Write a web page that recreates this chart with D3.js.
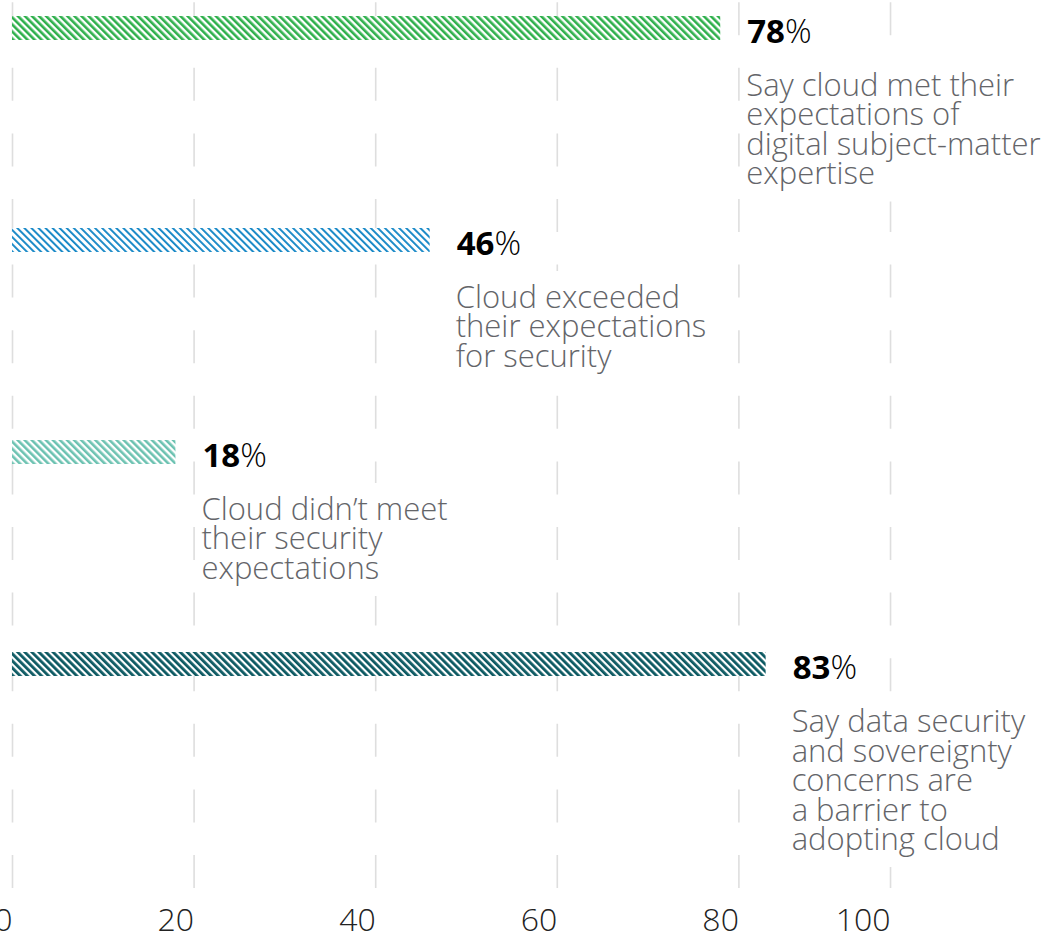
<!DOCTYPE html>
<html>
<head>
<meta charset="utf-8">
<script src="https://cdn.jsdelivr.net/npm/d3@7"></script>
<style>
  body { margin: 0; background: #fff; }
  svg { display: block; font-family: "Open Sans", sans-serif; }
</style>
</head>
<body>
<script>
// chart data
const categories = ["expertise", "securityExceeded", "securityNotMet", "sovereignty"];
const values = [78, 46, 18, 83];
const descriptions = [
  ["Say cloud met their", "expectations of", "digital subject-matter", "expertise"],
  ["Cloud exceeded", "their expectations", "for security"],
  ["Cloud didn\u2019t meet", "their security", "expectations"],
  ["Say data security", "and sovereignty", "concerns are", "a barrier to", "adopting cloud"]
];
const tickValues = [0, 20, 40, 60, 80, 100];

const WIDTH = 1041;
const HEIGHT = 936;
const AXIS_Y = 888;

const svg = d3.select("body").append("svg")
    .attr("width", WIDTH)
    .attr("height", HEIGHT);

const X_SCALE = d3.scaleLinear().domain([0, 100]).range([12, 920]);
// the original puts its last gridline a little short of 100
const GRID_SCALE = d3.scaleLinear()
    .domain([0, 80, 100])
    .range([X_SCALE(0), X_SCALE(80), X_SCALE(96.7)]);
const Y_SCALE = d3.scaleBand().domain(categories).range([16, 676]).paddingInner(0.8868);

const COLOR = d3.scaleOrdinal().domain(categories)
    .range(["#2fb04c", "#1386c6", "#6cc2b1", "#0c5962"]);
const STRIPE = d3.scaleOrdinal().domain(categories).range([2.6, 1.9, 2.6, 2.8]);

// hatch fills
const defs = svg.append("defs");
categories.forEach((c, i) => {
  const p = defs.append("pattern")
      .attr("id", "hatch" + i)
      .attr("patternUnits", "userSpaceOnUse")
      .attr("width", 5)
      .attr("height", 5)
      .attr("patternTransform", "rotate(-45)");
  p.append("rect").attr("width", 5).attr("height", 5).attr("fill", "#fff");
  p.append("rect").attr("width", STRIPE(c)).attr("height", 5).attr("fill", COLOR(c));
});

// axis + dashed gridlines
const axis = svg.append("g")
    .attr("transform", "translate(0," + AXIS_Y + ")")
    .call(d3.axisBottom(GRID_SCALE)
        .tickValues(tickValues)
        .tickSize(-(AXIS_Y - 2))
        .tickPadding(20));
axis.select(".domain").remove();
axis.attr("font-family", null).attr("font-size", null);
axis.selectAll(".tick line")
    .attr("stroke", "#dedede")
    .attr("stroke-width", 1.6)
    .attr("stroke-dasharray", "33 32.6");
axis.selectAll(".tick text")
    .attr("text-anchor", "end")
    .attr("font-size", "32px")
    .attr("font-weight", 300)
    .attr("fill", "#222");

// bars
svg.selectAll(".bar")
    .data(categories)
    .enter().append("rect")
    .attr("class", "bar")
    .attr("x", X_SCALE(0))
    .attr("y", (d) => Y_SCALE(d))
    .attr("width", (d, i) => X_SCALE(values[i]) - X_SCALE(0))
    .attr("height", Y_SCALE.bandwidth())
    .attr("fill", (d, i) => "url(#hatch" + i + ")");

// annotations
categories.forEach((c, i) => {
  const lx = X_SCALE(values[i]) + 27;
  const base = Y_SCALE(c) + Y_SCALE.bandwidth() + 3;

  const lab = svg.append("text")
      .attr("x", lx)
      .attr("y", base)
      .attr("font-size", "33px")
      .attr("fill", "#000");
  lab.append("tspan").attr("font-weight", 700).text(values[i]);
  lab.append("tspan").attr("font-weight", 300).text("%");

  const g = svg.append("g");
  const bg = g.append("rect").attr("fill", "#fff");
  const txt = g.append("text")
      .attr("font-size", "31px")
      .attr("font-weight", 300)
      .attr("fill", "#646569");
  descriptions[i].forEach((line, j) => {
    txt.append("tspan")
        .attr("x", lx - 1)
        .attr("y", base + 53 + j * 29.5)
        .text(line);
  });
  const bb = txt.node().getBBox();
  bg.attr("x", bb.x - 2)
    .attr("y", bb.y - 4)
    .attr("width", bb.width + 6)
    .attr("height", bb.height + 12);
});
</script>
</body>
</html>
